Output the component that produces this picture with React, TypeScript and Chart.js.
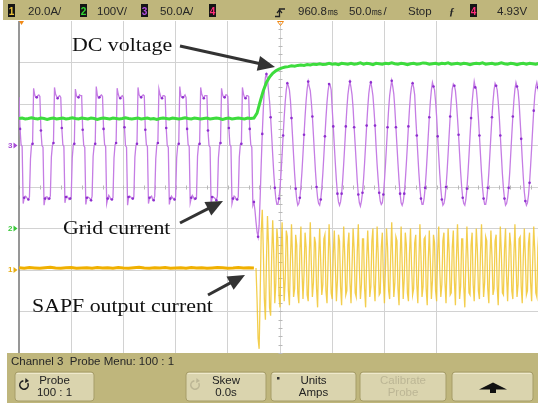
import React, { useEffect, useRef } from "react";
import { Chart, registerables } from "chart.js";

Chart.register(...registerables);

// ---- acquisition data -------------------------------------------------------
// Time axis: 50 ms/div, screen shows 0 .. VIEW_END_MS (right edge of the window)
const VIEW_END_MS = 497.1;
const DIV_MS = 50;

// Channel 3 – grid current, A (sampled every 1 ms from t = 0)
const GRID_STEP_MS = 1;
const gridCurrentA = [
  58, 20, 1, -1, -70, -63, -61, -62, -64, -65, -62, -16, 1, 2, 69, 61, 58, 58, 60, 61,
  59, 18, 0, -2, -72, -64, -62, -62, -65, -64, -61, -14, 0, 3, 70, 62, 59, 57, 59, 60,
  58, 21, 1, -1, -69, -62, -61, -63, -65, -64, -62, -15, 1, 2, 68, 60, 58, 58, 61, 60,
  60, 19, 0, -2, -71, -63, -62, -63, -64, -66, -61, -13, 0, 2, 71, 61, 57, 58, 60, 61,
  59, 20, 1, -1, -70, -64, -60, -62, -65, -65, -63, -15, 1, 3, 69, 62, 58, 57, 59, 60,
  58, 22, 0, -2, -72, -62, -61, -62, -64, -64, -62, -14, 0, 2, 70, 61, 59, 58, 60, 61,
  60, 19, 1, -1, -70, -63, -62, -61, -65, -66, -61, -16, 1, 3, 68, 62, 58, 57, 60, 60,
  59, 21, 0, -2, -71, -64, -61, -63, -64, -65, -62, -15, 0, 2, 71, 60, 58, 58, 59, 61,
  58, 20, 1, -1, -69, -63, -60, -62, -65, -64, -63, -13, 1, 2, 70, 62, 59, 57, 60, 60,
  60, 18, 0, -2, -72, -62, -62, -63, -64, -66, -61, -15, 0, 3, 69, 61, 58, 58, 61, 61,
  59, 21, 1, -1, -70, -64, -61, -62, -65, -65, -62, -14, 1, 2, 70, 62, 58, 57, 60, 60,
  59, 20, 1, -2, -72, -68, -78, -92, -104, -110, -96, -62, -22, 14, 44, 68, 82, 86, 80, 66,
  53, 34, 12, -11, -33, -51, -64, -71, -71, -64, -51, -33, -11, 12, 34, 53, 67, 75, 72, 67,
  54, 33, 11, -12, -34, -52, -65, -72, -70, -63, -50, -32, -10, 13, 35, 54, 68, 77, 71, 66,
  52, 35, 13, -10, -32, -50, -63, -70, -72, -65, -52, -34, -12, 11, 33, 52, 66, 74, 73, 67,
  44, 23, 0, -22, -42, -58, -68, -72, -68, -58, -42, -22, 0, 23, 44, 61, 71, 77, 70, 61,
  45, 22, 1, -21, -43, -59, -69, -73, -67, -57, -41, -21, 1, 24, 45, 62, 72, 76, 69, 60,
  43, 24, -1, -23, -41, -57, -67, -71, -69, -59, -43, -23, -1, 22, 43, 60, 70, 78, 71, 62,
  44, 22, 0, -22, -42, -58, -69, -72, -68, -58, -42, -22, 0, 23, 44, 61, 71, 75, 70, 61,
  34, 12, -11, -33, -51, -64, -71, -71, -64, -51, -33, -11, 12, 34, 53, 67, 76, 71, 67, 53,
  35, 11, -12, -34, -52, -65, -72, -70, -63, -50, -32, -10, 13, 35, 54, 68, 74, 72, 66, 52,
  33, 13, -10, -32, -50, -63, -70, -72, -65, -52, -34, -12, 11, 33, 52, 66, 77, 70, 68, 54,
  34, 12, -11, -33, -51, -64, -71, -71, -64, -51, -33, -11, 12, 34, 53, 67, 75, 72, 67, 53,
  35, 12, -11, -34, -52, -64, -72, -70, -63, -51, -33, -10, 13, 35, 54, 68, 76, 71, 66, 52,
  30, 8, -16, -38, -56, -67, -72, -69, -60, -45, -25, -3, 20, 42, 60, 71, 76, 70, 62, 46,
  24,
];

// Channel 2 – DC-link voltage, V (sampled every 3 ms from t = 0)
const DC_STEP_MS = 3;
const dcVoltageV = [
  265, 266, 264, 265, 267, 265, 264, 266, 265, 263, 265, 266, 264, 265, 266, 264, 265, 267, 265, 264,
  266, 265, 264, 266, 265, 263, 265, 266, 265, 264, 266, 265, 264, 265, 267, 265, 264, 265, 266, 264,
  265, 266, 264, 265, 263, 265, 266, 265, 264, 266, 265, 264, 265, 267, 265, 264, 266, 265, 264, 265,
  266, 264, 265, 266, 265, 263, 265, 266, 264, 265, 266, 265, 264, 266, 265, 266,
  278, 306, 332, 352, 365, 374, 380, 384, 387, 389,
  390, 392, 391, 393, 394, 393, 395, 394, 396, 395,
  397, 395, 396, 398, 396, 397, 395, 398, 397, 396,
  398, 396, 397, 399, 396, 398, 397, 395, 398, 397,
  396, 398, 397, 399, 397, 396, 398, 397, 395, 397,
  398, 396, 397, 399, 398, 396, 397, 398, 396, 398,
  397, 399, 396, 397, 398, 396, 398, 397, 395, 397,
  398, 397, 399, 396, 397, 398, 396, 397, 399, 397,
  396, 398, 397, 395, 397, 398, 396, 398, 397, 396, 398,
];

// Channel 1 – SAPF output current, A
// idle (filter off), every 5 ms from t = 0
const SAPF_IDLE_STEP_MS = 5;
const sapfIdleA = [
  1.1, 0.9, 1.2, 1.0, 0.8, 1.1, 1.3, 1.0, 0.9, 1.1, 1.2, 0.9, 1.0, 1.1, 0.8, 1.2,
  1.0, 1.1, 0.9, 1.2, 1.0, 0.9, 1.1, 1.3, 1.0, 0.8, 1.1, 1.0, 1.2, 0.9, 1.0, 1.1,
  0.9, 1.2, 1.0, 1.1, 0.8, 1.0, 1.2, 1.1, 0.9, 1.0, 1.2, 1.0, 1.1, 1.0,
];
// running, every 1 ms from t = 227
const SAPF_RUN_START_MS = 227;
const SAPF_RUN_STEP_MS = 1;
const sapfRunA = [
  1, -14, -33, -38, -12, 18, 29, 10, -14, -24, 4, 26, 12, -18, -22, 6, 24, 8, -16, -6,
  20, 14, -12, -18, 8, 23, 2, -15, -4, 19, 16, -10, -17, 5, 22, 6, -13, -9, 17, 12,
  -11, -16, 9, 21, 0, -14, -2, 18, 11, -12, -15, 7, 23, 3, -13, -6, 16, 13, -9, -18,
  6, 20, 4, -12, -7, 15, 17, -10, -16, 3, 22, 9, -11, -14, 8, 19, 2, -15, -5, 17,
  14, -8, -17, 4, 21, 7, -12, -10, 12, 18, -6, -16, 2, 20, 10, -11, -13, 9, 22, 1,
  -14, -7, 15, 15, -9, -18, 5, 19, 5, -13, -8, 14, 20, -7, -15, 3, 21, 8, -12, -11,
  11, 18, -4, -16, 1, 20, 11, -10, -14, 7, 23, 4, -13, -6, 16, 14, -9, -17, 6, 21,
  3, -14, -4, 18, 12, -11, -15, 8, 20, 2, -12, -9, 13, 17, -7, -16, 4, 22, 7, -13,
  -8, 15, 16, -9, -17, 5, 19, 4, -14, -5, 17, 13, -10, -15, 9, 21, 0, -13, -7, 14,
  18, -6, -16, 3, 20, 9, -12, -11, 11, 19, -5, -17, 6, 22, 5, -14, -8, 15, 15, -8,
  -18, 4, 21, 6, -11, -12, 12, 18, -7, -15, 2, 20, 10, -10, -14, 8, 22, 3, -13, -6,
  16, 14, -9, -16, 5, 19, 7, -12, -9, 14, 17, -8, -17, 3, 21, 8, -11, -12, 10, 20,
  -3, -15, 1, 18, 12, -10, -14, 7, 22, 4, -13, -7, 15, 16, -8, -16, 6, 20, 6, -12,
  -10, 13, 18, -6, -15, 4, 21, 9, -11, -13, 11, 19, -4, -14,
];

// Vertical settings: units per division and ground-marker position (div)
const ch1PerDiv = 20;
const ch2PerDiv = 100;
const ch3PerDiv = 50;
const ch1ZeroDiv = -2;
const ch2ZeroDiv = -1;
const ch3ZeroDiv = 1;

// Status line and softkey labels
const statusItems: [string, string | null][] = [
  ["1", "20.0A/"],
  ["2", "100V/"],
  ["3", "50.0A/"],
  ["4", null],
];
const delayText = "960.8㎳";
const timebaseText = "50.0㎳/";
const runStateText = "Stop";
const triggerLevelText = "4.93V";
const menuTitle = "Channel 3  Probe Menu: 100 : 1";
const softkeys: { top: string; bottom: string; enabled: boolean }[] = [
  { top: "Probe", bottom: "100 : 1", enabled: true },
  { top: "Skew", bottom: "0.0s", enabled: true },
  { top: "Units", bottom: "Amps", enabled: true },
  { top: "Calibrate", bottom: "Probe", enabled: false },
];
const traceLabels = ["DC voltage", "Grid current", "SAPF output current"];

// ---- styling ---------------------------------------------------------------
const BAND = "#bfb67c";
const KEY = "#dad4ae";
const GRID = "#d2d2d2";
const C1 = "#f0b000";
const C2 = "#3ddc3d";
const C3 = "#c57de4";
const C4 = "#ff2f7a";
const SANS = "'Liberation Sans', Arial, sans-serif";
const SERIF = "'Liberation Serif', 'Times New Roman', serif";

const toPoints = (vals: number[], t0: number, step: number, perDiv: number, zero: number) =>
  vals.map((v, i) => ({ x: t0 + i * step, y: zero + v / perDiv }));

function drawArrow(ctx: CanvasRenderingContext2D, x0: number, y0: number, x1: number, y1: number) {
  const a = Math.atan2(y1 - y0, x1 - x0);
  const len = 17;
  const half = 7.5;
  const bx = x1 - len * Math.cos(a);
  const by = y1 - len * Math.sin(a);
  ctx.strokeStyle = "#333";
  ctx.fillStyle = "#333";
  ctx.lineWidth = 3;
  ctx.beginPath();
  ctx.moveTo(x0, y0);
  ctx.lineTo(bx + 2 * Math.cos(a), by + 2 * Math.sin(a));
  ctx.stroke();
  ctx.beginPath();
  ctx.moveTo(x1, y1);
  ctx.lineTo(bx - half * Math.sin(a), by + half * Math.cos(a));
  ctx.lineTo(bx + half * Math.sin(a), by - half * Math.cos(a));
  ctx.closePath();
  ctx.fill();
}

function drawLabel(ctx: CanvasRenderingContext2D, text: string, x: number, y: number) {
  ctx.save();
  ctx.translate(x, y);
  ctx.scale(1.15, 1);
  ctx.font = `19px ${SERIF}`;
  ctx.fillStyle = "#111";
  ctx.textAlign = "left";
  ctx.textBaseline = "alphabetic";
  ctx.fillText(text, 0, 0);
  ctx.restore();
}

function chanBox(ctx: CanvasRenderingContext2D, x: number, label: string, color: string) {
  ctx.fillStyle = "#141414";
  ctx.fillRect(x, 4, 7, 13);
  ctx.fillStyle = color;
  ctx.font = `bold 10px ${SANS}`;
  ctx.textAlign = "center";
  ctx.fillText(label, x + 3.5, 14.5);
}

function roundRect(ctx: CanvasRenderingContext2D, x: number, y: number, w: number, h: number, r: number) {
  ctx.beginPath();
  ctx.moveTo(x + r, y);
  ctx.lineTo(x + w - r, y);
  ctx.quadraticCurveTo(x + w, y, x + w, y + r);
  ctx.lineTo(x + w, y + h - r);
  ctx.quadraticCurveTo(x + w, y + h, x + w - r, y + h);
  ctx.lineTo(x + r, y + h);
  ctx.quadraticCurveTo(x, y + h, x, y + h - r);
  ctx.lineTo(x, y + r);
  ctx.quadraticCurveTo(x, y, x + r, y);
  ctx.closePath();
}

function cycleIcon(ctx: CanvasRenderingContext2D, cx: number, cy: number, color: string) {
  ctx.strokeStyle = color;
  ctx.fillStyle = color;
  ctx.lineWidth = 1.6;
  ctx.beginPath();
  ctx.arc(cx, cy, 4.2, -Math.PI * 0.15, Math.PI * 1.45);
  ctx.stroke();
  ctx.beginPath();
  ctx.moveTo(cx + 1.5, cy - 7);
  ctx.lineTo(cx + 5, cy - 4);
  ctx.lineTo(cx + 1, cy - 2);
  ctx.closePath();
  ctx.fill();
}

const scopeScreen = {
  id: "scopeScreen",
  beforeDraw(chart: Chart) {
    const { ctx, width } = chart;
    ctx.save();
    ctx.fillStyle = "#ffffff";
    ctx.fillRect(0, 0, width, chart.height);

    // status line
    ctx.fillStyle = BAND;
    ctx.fillRect(3, 0, width - 3, 20);
    const boxX = [8, 80, 141, 209];
    const textX = [28, 97, 160];
    const colors = ["#e9c23a", "#34d834", "#b24fe0", C4];
    ctx.textBaseline = "alphabetic";
    statusItems.forEach(([n, t], i) => {
      chanBox(ctx, boxX[i], n, colors[i]);
      if (t) {
        ctx.fillStyle = "#262626";
        ctx.font = `11.5px ${SANS}`;
        ctx.textAlign = "left";
        ctx.fillText(t, textX[i], 15);
      }
    });
    ctx.fillStyle = "#262626";
    ctx.font = `11.5px ${SANS}`;
    ctx.textAlign = "left";
    ctx.fillText(delayText, 298, 15);
    ctx.fillText(timebaseText, 349, 15);
    ctx.fillText(runStateText, 408, 15);
    ctx.fillText(triggerLevelText, 497, 15);
    ctx.font = `italic bold 11px ${SERIF}`;
    ctx.fillText("ƒ", 449, 15);
    chanBox(ctx, 470, "4", C4);
    // trigger-point glyph
    ctx.strokeStyle = "#222";
    ctx.lineWidth = 1.3;
    ctx.beginPath();
    ctx.moveTo(275, 16.5);
    ctx.lineTo(279.5, 16.5);
    ctx.lineTo(279.5, 9);
    ctx.lineTo(285, 9);
    ctx.stroke();
    ctx.beginPath();
    ctx.moveTo(277, 13);
    ctx.lineTo(279.5, 10);
    ctx.lineTo(282, 13);
    ctx.stroke();

    // softkey menu
    ctx.fillStyle = BAND;
    ctx.fillRect(7, 353, width - 7, 50);
    ctx.fillStyle = "#262626";
    ctx.font = `11.5px ${SANS}`;
    ctx.textAlign = "left";
    ctx.fillText(menuTitle, 11, 365);
    const keyX: [number, number][] = [[15, 94], [186, 266], [271, 356], [360, 446], [452, 533]];
    keyX.forEach(([x0, x1], i) => {
      roundRect(ctx, x0, 372, x1 - x0, 29, 3);
      ctx.fillStyle = KEY;
      ctx.fill();
      ctx.strokeStyle = "#a69d68";
      ctx.lineWidth = 1;
      ctx.stroke();
      ctx.strokeStyle = "#efe9cc";
      ctx.beginPath();
      ctx.moveTo(x0 + 2, 373.5);
      ctx.lineTo(x1 - 2, 373.5);
      ctx.stroke();
      const cx = (x0 + x1) / 2;
      const key = softkeys[i];
      if (key) {
        ctx.fillStyle = key.enabled ? "#222" : "#bcb695";
        ctx.font = `11.5px ${SANS}`;
        ctx.textAlign = "center";
        ctx.fillText(key.top, cx, 384);
        ctx.fillText(key.bottom, cx, 396);
      }
    });
    cycleIcon(ctx, 24, 385, "#222");
    cycleIcon(ctx, 195, 385, "#bcb695");
    ctx.fillStyle = "#333";
    ctx.fillRect(277, 377, 2.5, 2.5);
    // menu-return arrow
    ctx.fillStyle = "#111";
    ctx.beginPath();
    ctx.moveTo(493, 382.5);
    ctx.lineTo(507, 389.5);
    ctx.lineTo(479, 389.5);
    ctx.closePath();
    ctx.fill();
    ctx.fillRect(490, 389, 6, 4);
    ctx.restore();
  },
  beforeDatasetsDraw(chart: Chart) {
    const { ctx, chartArea } = chart;
    const xs = chart.scales.x;
    const ys = chart.scales.y;
    ctx.save();
    // centre axes minor ticks
    ctx.strokeStyle = "#b8b8b8";
    ctx.lineWidth = 1;
    const xc = Math.round(xs.getPixelForValue(5 * DIV_MS)) + 0.5;
    const yc = Math.round(ys.getPixelForValue(0)) + 0.5;
    ctx.beginPath();
    for (let t = 0; t <= VIEW_END_MS; t += DIV_MS / 5) {
      const px = Math.round(xs.getPixelForValue(t)) + 0.5;
      ctx.moveTo(px, yc - 2);
      ctx.lineTo(px, yc + 2);
    }
    for (let v = -4; v <= 4.001; v += 0.2) {
      const py = Math.round(ys.getPixelForValue(v)) + 0.5;
      ctx.moveTo(xc - 2, py);
      ctx.lineTo(xc + 2, py);
    }
    ctx.stroke();
    // left frame edge
    ctx.strokeStyle = "#7d7d7d";
    ctx.lineWidth = 1.6;
    ctx.beginPath();
    ctx.moveTo(chartArea.left, chartArea.top);
    ctx.lineTo(chartArea.left, chartArea.bottom);
    ctx.stroke();

    // ground markers
    ctx.font = `bold 8px ${SANS}`;
    ctx.textAlign = "left";
    ctx.textBaseline = "middle";
    const marks: [string, number, string][] = [
      ["3", ch3ZeroDiv, "#a64ad6"],
      ["2", ch2ZeroDiv, "#39c839"],
      ["1", ch1ZeroDiv, "#e7ad10"],
    ];
    marks.forEach(([n, d, c]) => {
      const py = ys.getPixelForValue(d);
      ctx.fillStyle = c;
      ctx.fillText(n, 8, py);
      ctx.beginPath();
      ctx.moveTo(13.5, py - 3);
      ctx.lineTo(17.5, py);
      ctx.lineTo(13.5, py + 3);
      ctx.closePath();
      ctx.fill();
    });
    // time reference / trigger markers
    ctx.fillStyle = "#f08a18";
    ctx.beginPath();
    ctx.moveTo(chartArea.left, chartArea.top);
    ctx.lineTo(chartArea.left + 5, chartArea.top);
    ctx.lineTo(chartArea.left + 2.5, chartArea.top + 4);
    ctx.closePath();
    ctx.fill();
    ctx.strokeStyle = "#f08a18";
    ctx.lineWidth = 1;
    ctx.beginPath();
    ctx.moveTo(xc - 3, chartArea.top + 0.5);
    ctx.lineTo(xc + 3, chartArea.top + 0.5);
    ctx.lineTo(xc, chartArea.top + 4.5);
    ctx.closePath();
    ctx.stroke();
    ctx.restore();
  },
  afterDraw(chart: Chart) {
    const { ctx } = chart;
    ctx.save();
    drawLabel(ctx, traceLabels[0], 72, 51);
    drawArrow(ctx, 180, 46, 275, 67);
    drawLabel(ctx, traceLabels[1], 63, 234);
    drawArrow(ctx, 180, 223, 223, 201);
    drawLabel(ctx, traceLabels[2], 32, 312);
    drawArrow(ctx, 208, 295, 245, 275);
    ctx.restore();
  },
};

export default function App() {
  const canvasRef = useRef<HTMLCanvasElement | null>(null);

  useEffect(() => {
    const canvas = canvasRef.current;
    if (!canvas) return;
    const chart = new Chart(canvas, {
      type: "line",
      data: {
        datasets: [
          {
            label: "DC voltage",
            data: toPoints(dcVoltageV, 0, DC_STEP_MS, ch2PerDiv, ch2ZeroDiv),
            borderColor: C2,
            borderWidth: 3,
            pointRadius: 0,
            tension: 0,
          },
          {
            label: "Grid current",
            data: toPoints(gridCurrentA, 0, GRID_STEP_MS, ch3PerDiv, ch3ZeroDiv),
            borderColor: C3,
            borderWidth: 1.3,
            pointRadius: (c: any) => (c.dataIndex % 4 === 1 ? 1.3 : 0),
            pointBackgroundColor: "#8e2fcf",
            pointBorderWidth: 0,
            tension: 0,
          },
          {
            label: "SAPF output current (idle)",
            data: toPoints(sapfIdleA, 0, SAPF_IDLE_STEP_MS, ch1PerDiv, ch1ZeroDiv),
            borderColor: C1,
            borderWidth: 3,
            pointRadius: 0,
            tension: 0,
          },
          {
            label: "SAPF output current",
            data: toPoints(sapfRunA, SAPF_RUN_START_MS, SAPF_RUN_STEP_MS, ch1PerDiv, ch1ZeroDiv),
            borderColor: "rgba(241, 198, 46, 0.85)",
            borderWidth: 1.3,
            pointRadius: 0,
            tension: 0,
          },
        ],
      },
      options: {
        responsive: false,
        animation: false,
        events: [],
        layout: { padding: { left: 19, top: 21, right: 0, bottom: 53 } },
        plugins: { legend: { display: false }, tooltip: { enabled: false } },
        scales: {
          x: {
            type: "linear",
            min: 0,
            max: VIEW_END_MS,
            ticks: { display: false, stepSize: DIV_MS },
            grid: { color: GRID, drawTicks: false, lineWidth: 1 },
            border: { display: false },
            afterBuildTicks: (s: any) => {
              s.ticks = s.ticks.filter((t: any) => t.value > 0 && t.value % DIV_MS === 0);
            },
          },
          y: {
            type: "linear",
            min: -4,
            max: 4,
            ticks: { display: false, stepSize: 1 },
            grid: { color: GRID, drawTicks: false, lineWidth: 1 },
            border: { display: false },
            afterBuildTicks: (s: any) => {
              s.ticks = s.ticks.filter((t: any) => t.value > -4 && t.value < 4);
            },
          },
        },
      },
      plugins: [scopeScreen],
    });
    return () => chart.destroy();
  }, []);

  return (
    <div style={{ position: "fixed", left: 0, top: 0, width: 538, height: 406, background: "#fff" }}>
      <canvas ref={canvasRef} width={538} height={406} style={{ display: "block" }} />
    </div>
  );
}
